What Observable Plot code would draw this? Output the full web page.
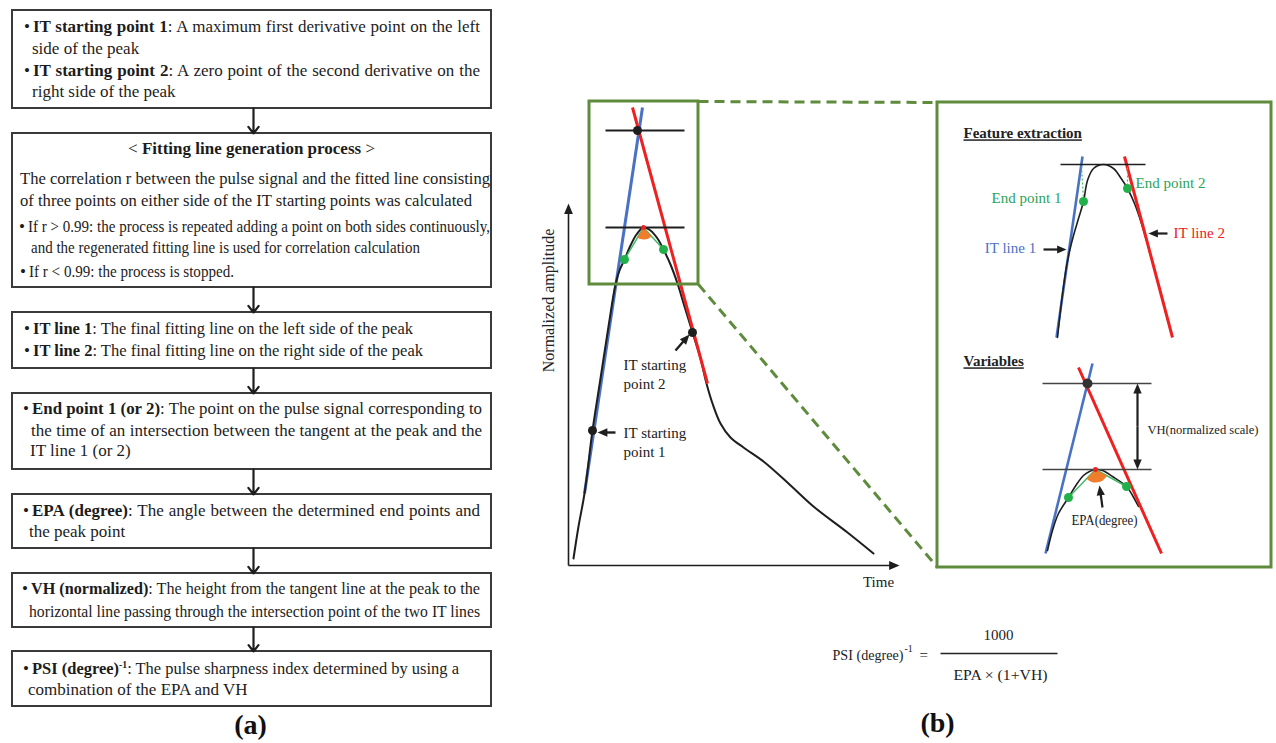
<!DOCTYPE html>
<html><head><meta charset="utf-8">
<script src="https://cdn.jsdelivr.net/npm/d3@7"></script>
<script src="https://cdn.jsdelivr.net/npm/@observablehq/plot@0.6"></script>
<style>
body{margin:0;background:#fff;}
#wrap{position:relative;width:1276px;height:743px;overflow:hidden;font-family:"Liberation Serif","Times New Roman",serif;color:#1c1c1c;}
#wrap svg{position:absolute;left:0;top:0;}
.ln{position:absolute;white-space:nowrap;font-size:17px;line-height:20px;height:20px;}
.ln .t{display:inline-block;transform-origin:0 50%;}
.ln .bl{position:absolute;left:-9px;top:0;}
.ln sup{font-size:10px;vertical-align:6px;line-height:0;}
</style></head><body><div id="wrap"></div>
<script>
// ================= DATA =================
// (a) flowchart
const boxTop    = [10, 133, 312, 393, 494, 573, 651];
const boxBottom = [108, 287, 368, 469, 548, 627, 706];
const flowText = [
  "•<b>IT starting point 1</b>: A maximum first derivative point on the left",
  "side of the peak",
  "•<b>IT starting point 2</b>: A zero point of the second derivative on the",
  "right side of the peak",
  "&lt; <b>Fitting line generation process</b> &gt;",
  "The correlation r between the pulse signal and the fitted line consisting",
  "of three points on either side of the IT starting points was calculated",
  "•If r &gt; 0.99: the process is repeated adding a point on both sides continuously,",
  "and the regenerated fitting line is used for correlation calculation",
  "•If r &lt; 0.99: the process is stopped.",
  "•<b>IT line 1</b>: The final fitting line on the left side of the peak",
  "•<b>IT line 2</b>: The final fitting line on the right side of the peak",
  "•<b>End point 1 (or 2)</b>: The point on the pulse signal corresponding to",
  "the time of an intersection between the tangent at the peak and the",
  "IT line 1 (or 2)",
  "•<b>EPA (degree)</b>: The angle between the determined end points and",
  "the peak point",
  "•<b>VH (normalized)</b>: The height from the tangent line at the peak to the",
  "horizontal line passing through the intersection point of the two IT lines",
  "•<b>PSI (degree)<sup>-1</sup></b>: The pulse sharpness index determined by using a",
  "combination of the EPA and VH"
];

// (b) main pulse waveform (diagram units)
const pulseWave = [[573,558],[578,526],[584,493],[592,430],[600,378],[608,326],[615,284],[619,270],[624,259],[630,245],[636,234],[643,227],[650,230],[657,238],[663,249],[670,264],[677,283],[684,306],[692,332],[700,358],[706,383],[712,403],[720,423],[730,437],[743,447],[763,461],[788,483],[813,506],[847,532],[873,553]];
const itLine1Main = [642,107,584,493];
const itLine2Main = [632,107,707,383];
const peakTangentMain = [605,227,684,227];
const crossTangentMain = [605,130,684,130];
const peakMain = [643,227];
const endPointsMain = [[624,259],[663,249]];
const crossPointMain = [637,130];
const itStartPoints = [[592,430],[692,332]];
const zoomBox = [589,101,698,284];
const detailBox = [937,102,1271,567];
const connectors = [[698,101,937,102],[698,284,937,567]];
const axesMain = [[568,565,568,203],[568,565,899,565]];
const mainArrows = [[615,432,597,432],[675,350,689,334]];
const fractionBar = [940,653,1057,653];

// feature extraction inset
const featWave = [[1057,337],[1060,310],[1063,286],[1066,266],[1069,251],[1073,235],[1078,218],[1083,201],[1087,180],[1093,168],[1103,164],[1113,168],[1120,177],[1127,188],[1134,203],[1140,220],[1146,240]];
const featLine1 = [1082,156,1056,337];
const featLine2 = [1124,156,1172,337];
const featTangent = [1060,164,1145,164];
const featEndPoints = [[1083,201],[1127,188]];
const featGuides = [[1081,166,1083,199],[1127,167,1127,186]];
const featArrows = [[1043,249,1066,249],[1167,233,1148,233]];

// variables inset
const varWave = [[1047,550],[1052,530],[1058,513],[1068,497],[1076,484],[1083,475],[1089,471],[1095,469],[1102,470],[1112,476],[1126,486],[1132,495],[1138,506]];
const varLine1 = [1092,363,1045,553];
const varLine2 = [1078,367,1161,553];
const varCrossTangent = [1042,383,1151,383];
const varPeakTangent = [1042,469,1151,469];
const varPeak = [1095,469];
const varEndPoints = [[1068,497],[1126,486]];
const varCrossPoint = [1087,383];
const varArrows = [[1137,426,1137,383],[1137,426,1137,469],[1102,507,1099,485]];

// labels
const labels = [
  {t:"Normalized amplitude", x:548, y:300, rot:-90, size:16},
  {t:"Time", x:878, y:582, size:15},
  {t:"IT starting", x:623, y:365, a:"start", size:15},
  {t:"point 2", x:623, y:384, a:"start", size:15},
  {t:"IT starting", x:623, y:433, a:"start", size:15},
  {t:"point 1", x:623, y:452, a:"start", size:15},
  {t:"1000", x:998, y:635, size:15},
  {t:"EPA × (1+VH)", x:1000, y:675, size:15},
  {t:"PSI (degree)", x:832, y:655, a:"start", size:15},
  {t:"-1", x:904, y:648, a:"start", size:10},
  {t:"=", x:919, y:655, a:"start", size:15},
  {t:"VH(normalized scale)", x:1147, y:429, a:"start", size:13},
  {t:"EPA(degree)", x:1104, y:520, size:14}
];
const colorLabels = [
  {t:"End point 1", x:1026, y:198, c:"g"},
  {t:"End point 2", x:1135, y:183, a:"start", c:"g"},
  {t:"IT line 1", x:1010, y:248, c:"b"},
  {t:"IT line 2", x:1173, y:233, a:"start", c:"r"}
];
const headings = [
  {t:"Feature extraction", x:963, y:133},
  {t:"Variables", x:963, y:361}
];
const panelLabels = [{t:"(a)", x:250, y:725},{t:"(b)", x:937, y:723}];

// ================= STYLE / LAYOUT =================
const ink = "#1e1e1e", boxInk = "#3a3a3a";
const green = "#5f8b3d", blue = "#4a72c4", red = "#ee2020", dotGreen = "#22b04b", txtGreen = "#2aa35a", orange = "#f07d2c", lineGreen = "#45b86a";
const labelColor = {g: txtGreen, b: blue, r: red};
const font = "Liberation Serif";
// [centre y, left x, right x (0 = natural), align]
const flowLayout = [
  [28,33,480],[50,32,0],[72,33,480],[93,32,0],
  [150,12,491,"c"],[180,20,490],[202,20,472],[228,28,490],[249,31,420],[273,29,234],
  [330,33,413],[352,33,423],
  [410,32,482],[432,31,482],[452,30,0],
  [512,32,480],[533,29,0],
  [590,31,480],[613,29,480],
  [670,32,459],[691,28,0]
];

const arrowHead = {draw(ctx, size){ const s = Math.sqrt(size/Math.PI); ctx.moveTo(0,0); ctx.lineTo(-1.1*s, 2.6*s); ctx.lineTo(1.1*s, 2.6*s); ctx.closePath(); }};
const wedge = (peak, pts) => {
  const aR = Math.atan2(pts[1][1]-peak[1], pts[1][0]-peak[0]);
  const aL = Math.atan2(pts[0][1]-peak[1], pts[0][0]-peak[0]);
  return {draw(ctx, size){ const s = Math.sqrt(size/Math.PI); ctx.moveTo(0,0); ctx.arc(0,0,s,aR,aL); ctx.closePath(); }};
};
const seg = (arr, opts) => Plot.link(arr, {x1:d=>d[0], y1:d=>d[1], x2:d=>d[2], y2:d=>d[3], ...opts});
const pts = (arr, opts) => Plot.dot(arr, {x:d=>d[0], y:d=>d[1], ...opts});
const wave = (arr, opts) => Plot.line(arr, {x:d=>d[0], y:d=>d[1], curve:"catmull-rom", ...opts});
const texts = (arr, opts) => ["start","middle"].map(a => Plot.text(arr.filter(d => (d.a || "middle") === a), {x:"x", y:"y", text:"t", textAnchor:a, fontFamily:font, ...opts}));
function arrows(list, {r=3.6, stroke=ink, strokeWidth=2}={}) {
  const shafts = list.map(([x1,y1,x2,y2]) => { const L=Math.hypot(x2-x1,y2-y1), ux=(x2-x1)/L, uy=(y2-y1)/L; return [x1,y1,x2-ux*r*1.6,y2-uy*r*1.6]; });
  const heads = list.map(([x1,y1,x2,y2]) => ({x:x2, y:y2, a:Math.atan2(x2-x1, -(y2-y1))*180/Math.PI}));
  return [seg(shafts, {stroke, strokeWidth}), Plot.dot(heads, {x:"x", y:"y", rotate:"a", r, symbol:arrowHead, fill:stroke, stroke:"none"})];
}
const boxes = boxTop.map((t,i) => ({t, b: boxBottom[i]}));
const flowArrows = boxTop.slice(1).map((t,i) => ({y1: boxBottom[i], y2: t}));

const svg = Plot.plot({
  width: 1276, height: 743, margin: 0,
  x: {domain: [0,1276], range: [0,1276], axis: null},
  y: {domain: [0,743], range: [0,743], axis: null},
  style: {fontFamily: font, background: "transparent"},
  marks: [
    // (a) flowchart frames and arrows
    Plot.rect(boxes, {x1: 12, x2: 491, y1: "t", y2: "b", fill: "none", stroke: boxInk, strokeWidth: 2}),
    Plot.arrow(flowArrows, {x1: 253, x2: 253, y1: "y1", y2: "y2", stroke: ink, strokeWidth: 2.2, headLength: 6, headAngle: 76}),
    // (b) connectors & boxes
    seg(connectors, {stroke: green, strokeWidth: 3, strokeDasharray: "10,6"}),
    Plot.rect([detailBox], {x1:d=>d[0], y1:d=>d[1], x2:d=>d[2], y2:d=>d[3], fill:"white", stroke: green, strokeWidth: 3}),
    // main axes
    ...arrows(axesMain, {r: 4, strokeWidth: 1.6}),
    // main pulse
    seg([itLine1Main], {stroke: blue, strokeWidth: 3}),
    wave(pulseWave, {stroke: ink, strokeWidth: 2}),
    seg([itLine2Main], {stroke: red, strokeWidth: 3}),
    seg([peakTangentMain, crossTangentMain], {stroke: ink, strokeWidth: 2}),
    seg(endPointsMain.map(p => [peakMain[0], peakMain[1], p[0], p[1]]), {stroke: lineGreen, strokeWidth: 1.5}),
    pts([peakMain], {r: 12, symbol: wedge(peakMain, endPointsMain), fill: orange}),
    pts([peakMain], {r: 2.5, fill: red}),
    pts(endPointsMain, {r: 4.5, fill: dotGreen}),
    pts([crossPointMain], {r: 4.5, fill: ink}),
    pts(itStartPoints, {r: 4.5, fill: ink}),
    ...arrows(mainArrows, {r: 3.8, strokeWidth: 2.4}),
    Plot.rect([zoomBox], {x1:d=>d[0], y1:d=>d[1], x2:d=>d[2], y2:d=>d[3], fill:"none", stroke: green, strokeWidth: 3}),
    // feature extraction inset
    seg([featLine1], {stroke: blue, strokeWidth: 2.6}),
    wave(featWave, {stroke: ink, strokeWidth: 1.6}),
    seg([featLine2], {stroke: red, strokeWidth: 3}),
    seg([featTangent], {stroke: ink, strokeWidth: 1.5}),
    seg(featGuides, {stroke: lineGreen, strokeWidth: 1.2, strokeDasharray: "2,2"}),
    pts(featEndPoints, {r: 4.5, fill: dotGreen}),
    ...arrows(featArrows, {r: 3.6, strokeWidth: 2.2}),
    // variables inset
    seg([varLine1], {stroke: blue, strokeWidth: 2.6}),
    wave(varWave, {stroke: ink, strokeWidth: 1.6}),
    seg([varLine2], {stroke: red, strokeWidth: 3}),
    seg([varCrossTangent, varPeakTangent], {stroke: "#444", strokeWidth: 1.5}),
    seg(varEndPoints.map(p => [varPeak[0], varPeak[1], p[0], p[1]]), {stroke: lineGreen, strokeWidth: 1.5}),
    pts([varPeak], {r: 13, symbol: wedge(varPeak, varEndPoints), fill: orange}),
    pts([varPeak], {r: 2.5, fill: red}),
    pts(varEndPoints, {r: 4.5, fill: dotGreen}),
    pts([varCrossPoint], {r: 5, fill: "#333"}),
    ...arrows(varArrows, {r: 3.8, strokeWidth: 2.2}),
    // PSI formula fraction bar
    seg([fractionBar], {stroke: "#222", strokeWidth: 1.3}),
    // texts
    ...texts(labels, {rotate: d => d.rot || 0, fontSize: d => d.size, fill: "#222"}),
    ...texts(colorLabels, {fontSize: 15, fill: d => labelColor[d.c]}),
    ...texts(headings.map(d => ({...d, a:"start"})), {fontSize: 15, fontWeight: "bold", fill: "#222"}),
    ...texts(panelLabels, {fontSize: 28, fontWeight: "bold", fill: "#111"})
  ]
});
// fit a few condensed labels and underline headings
const fitText = new Map([["VH(normalized scale)",111],["EPA(degree)",66],["PSI (degree)",71],["EPA × (1+VH)",94]]);
svg.querySelectorAll("text").forEach(t => {
  const s = t.textContent;
  if (fitText.has(s)) { t.setAttribute("textLength", fitText.get(s)); t.setAttribute("lengthAdjust", "spacingAndGlyphs"); }
  if (s === "Feature extraction" || s === "Variables") t.setAttribute("text-decoration", "underline");
});
const wrap = document.getElementById("wrap");
wrap.appendChild(svg);

// flowchart text (HTML for mixed bold / regular runs)
const lineEls = [];
flowText.forEach((txt, i) => {
  const [cy, x0, x1, al] = flowLayout[i];
  const div = document.createElement("div");
  div.className = "ln";
  div.style.top = (cy - 11) + "px";
  div.style.left = x0 + "px";
  if (al === "c") {
    div.style.width = (x1 - x0) + "px";
    div.style.textAlign = "center";
    div.innerHTML = `<span class="t">${txt}</span>`;
  } else {
    const bullet = txt.startsWith("•");
    div.innerHTML = (bullet ? '<span class="bl">•</span>' : '') + `<span class="t">${bullet ? txt.slice(1) : txt}</span>`;
    if (x1) div.dataset.w = x1 - x0;
  }
  wrap.appendChild(div);
  lineEls.push(div);
});
lineEls.forEach(div => {
  const target = +div.dataset.w;
  if (!target) return;
  const t = div.querySelector(".t");
  const w = t.getBoundingClientRect().width;
  if (w < target) {
    const n = (t.textContent.match(/ /g) || []).length || 1;
    t.style.wordSpacing = ((target - w) / n) + "px";
  } else {
    t.style.transform = `scaleX(${target / w})`;
  }
});
</script>
</body></html>
